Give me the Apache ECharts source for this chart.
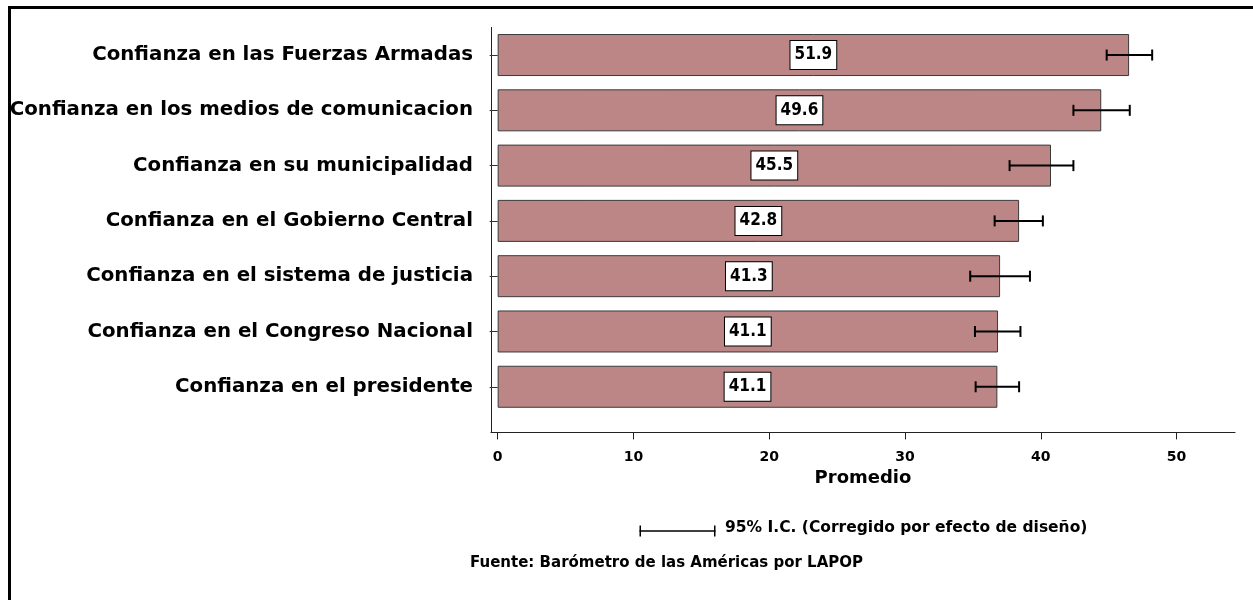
<!DOCTYPE html>
<html>
<head>
<meta charset="utf-8">
<script src="https://cdn.jsdelivr.net/npm/echarts@6/dist/echarts.min.js"></script>
<style>
html,body{margin:0;padding:0;background:#fff;}
#chart{width:1253px;height:600px;}
</style>
</head>
<body>
<div id="chart"></div>
<script>
const categories = [
  'Confianza en las Fuerzas Armadas',
  'Confianza en los medios de comunicacion',
  'Confianza en su municipalidad',
  'Confianza en el Gobierno Central',
  'Confianza en el sistema de justicia',
  'Confianza en el Congreso Nacional',
  'Confianza en el presidente'
];
const barValues = [46.5, 44.45, 40.75, 38.4, 37.0, 36.85, 36.8];
const labelValues = ['51.9', '49.6', '45.5', '42.8', '41.3', '41.1', '41.1'];
const ciLow = [44.85, 42.4, 37.7, 36.6, 34.8, 35.15, 35.2];
const ciHigh = [48.2, 46.55, 42.4, 40.15, 39.2, 38.5, 38.4];
const xTicks = [0, 10, 20, 30, 40, 50];
const axisTitle = 'Promedio';
const legendText = '95% I.C. (Corregido por efecto de diseño)';
const sourceText = 'Fuente: Barómetro de las Américas por LAPOP';

const FONT = '"DejaVu Sans", "Liberation Sans", sans-serif';
const chart = echarts.init(document.getElementById('chart'), null, {renderer: 'canvas'});

const option = {
  backgroundColor: '#ffffff',
  animation: false,
  grid: [
    {left: 491, right: 18, top: 27.4, height: 387, containLabel: false},
    {left: 491, right: 18, top: 27.4, bottom: 167.7, containLabel: false}
  ],
  xAxis: [
    {
      type: 'value', gridIndex: 0, min: -0.49, max: 54.3,
      position: 'bottom', offset: 18,
      splitLine: {show: false},
      axisLine: {show: true, lineStyle: {color: '#222', width: 1.2}},
      axisTick: {show: true, length: 7, lineStyle: {color: '#222', width: 1}, customValues: xTicks},
      axisLabel: {customValues: xTicks, margin: 18, color: '#000', fontFamily: FONT, fontWeight: 'bold', fontSize: 14},
      name: axisTitle, nameLocation: 'middle', nameGap: 36,
      nameTextStyle: {color: '#000', fontFamily: FONT, fontWeight: 'bold', fontSize: 18}
    },
    {type: 'value', gridIndex: 1, show: false, min: 0, max: 1}
  ],
  yAxis: [
    {
      type: 'category', gridIndex: 0, data: categories, inverse: true,
      axisLine: {show: false},
      axisTick: {show: true, alignWithLabel: true, length: 8, lineStyle: {color: '#333', width: 1}},
      axisLabel: {margin: 18, color: '#000', fontFamily: FONT, fontWeight: 'bold', fontSize: 19.8},
      splitLine: {show: false}
    },
    {
      type: 'value', gridIndex: 1, min: 0, max: 1,
      axisLine: {show: true, onZero: false, lineStyle: {color: '#222', width: 1}},
      axisTick: {show: false}, axisLabel: {show: false}, splitLine: {show: false}
    }
  ],
  series: [
    {
      type: 'bar', xAxisIndex: 0, yAxisIndex: 0,
      data: barValues, barWidth: 42,
      itemStyle: {color: '#bc8686', borderColor: '#3a3a3a', borderWidth: 1},
      label: {
        show: true, position: 'inside',
        formatter: p => labelValues[p.dataIndex],
        color: '#000', fontFamily: '"DejaVu Sans Condensed", "Liberation Sans Narrow", "DejaVu Sans", sans-serif',
        fontWeight: 'bold', fontSize: 17,
        backgroundColor: '#fff', borderColor: '#000', borderWidth: 1,
        padding: [6, 4, 5, 4]
      },
      z: 2
    },
    {
      type: 'custom', xAxisIndex: 0, yAxisIndex: 0,
      data: categories.map((c, i) => [ciLow[i], ciHigh[i], i]),
      renderItem: function (params, api) {
        const p1 = api.coord([api.value(0), api.value(2)]);
        const p2 = api.coord([api.value(1), api.value(2)]);
        const h = 5.5;
        const style = {stroke: '#000', lineWidth: 2};
        return {
          type: 'group',
          children: [
            {type: 'line', shape: {x1: p1[0], y1: p1[1], x2: p2[0], y2: p2[1]}, style: style},
            {type: 'line', shape: {x1: p1[0], y1: p1[1] - h, x2: p1[0], y2: p1[1] + h}, style: style},
            {type: 'line', shape: {x1: p2[0], y1: p2[1] - h, x2: p2[0], y2: p2[1] + h}, style: style}
          ]
        };
      },
      z: 5
    }
  ],
  graphic: [
    {type: 'rect', left: 7, top: 5, shape: {width: 1260, height: 620}, style: {fill: 'none', stroke: '#000', lineWidth: 3}, silent: true},
    {type: 'group', left: 637, top: 523, children: [
      {type: 'line', shape: {x1: 0, y1: 5.5, x2: 76, y2: 5.5}, style: {stroke: '#000', lineWidth: 1.5}},
      {type: 'line', shape: {x1: 0.75, y1: 0, x2: 0.75, y2: 11}, style: {stroke: '#000', lineWidth: 1.5}},
      {type: 'line', shape: {x1: 75.25, y1: 0, x2: 75.25, y2: 11}, style: {stroke: '#000', lineWidth: 1.5}}
    ]},
    {type: 'text', left: 725, top: 520, style: {text: legendText, fill: '#000', font: 'bold 15.5px ' + FONT}},
    {type: 'text', left: 470, top: 556, style: {text: sourceText, fill: '#000', font: 'bold 15px ' + FONT}}
  ]
};
chart.setOption(option);
</script>
</body>
</html>
